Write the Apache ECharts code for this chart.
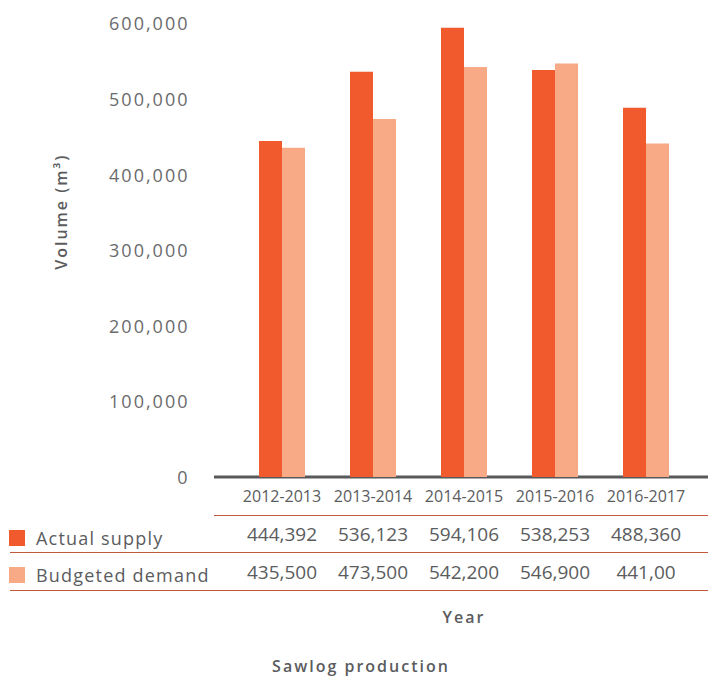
<!DOCTYPE html>
<html>
<head>
<meta charset="utf-8">
<script src="https://cdn.jsdelivr.net/npm/echarts@6/dist/echarts.min.js"></script>
<style>
  html, body { margin: 0; padding: 0; background: #ffffff; }
  #main { width: 708px; height: 678px; }
  #main text[text-anchor="end"] { letter-spacing: 2px; }
  #main text[text-anchor="start"] { letter-spacing: 1.2px; }
  #main text[style*="600"], #main text[font-weight="600"] { letter-spacing: 2px; }
</style>
</head>
<body>
<div id="main"></div>
<script>
// ---- data ----
var categories = ['2012-2013', '2013-2014', '2014-2015', '2015-2016', '2016-2017'];
var actualSupply = [444392, 536123, 594106, 538253, 488360];
var budgetedDemand = [435500, 473500, 542200, 546900, 441000];
var tableActual = ['444,392', '536,123', '594,106', '538,253', '488,360'];
var tableBudget = ['435,500', '473,500', '542,200', '546,900', '441,00'];
var seriesNames = ['Actual supply', 'Budgeted demand'];
var yMin = 0, yMax = 600000, yStep = 100000;

var textGray = '#5b5c5e';
var font = 'Open Sans';
var chart = echarts.init(document.getElementById('main'), null, { renderer: 'svg', width: 708, height: 678 });

var option = {
  animation: false,
  backgroundColor: '#ffffff',
  grid: { left: 236.5, right: 16.5, top: 23.4, bottom: 201, containLabel: false },
  legend: {
    orient: 'vertical',
    left: 9,
    top: 529,
    padding: 0,
    itemWidth: 16,
    itemHeight: 16,
    itemGap: 19,
    icon: 'rect',
    selectedMode: false,
    data: seriesNames,
    textStyle: { fontFamily: font, fontSize: 18, color: textGray, padding: [0, 0, 5, 6] }
  },
  xAxis: [
    {
      type: 'category',
      data: categories,
      position: 'bottom',
      axisLine: { show: false },
      axisTick: { show: false },
      axisLabel: { interval: 0, margin: 11, fontFamily: font, fontSize: 16, color: textGray },
      name: 'Year',
      nameLocation: 'middle',
      nameGap: 132,
      nameTextStyle: { fontFamily: font, fontSize: 16, fontWeight: 600, color: textGray }
    },
    {
      type: 'category',
      data: tableActual,
      position: 'bottom',
      offset: 40,
      axisLine: { show: false },
      axisTick: { show: false },
      axisLabel: { interval: 0, margin: 7, fontFamily: font, fontSize: 19, color: textGray }
    },
    {
      type: 'category',
      data: tableBudget,
      position: 'bottom',
      offset: 78,
      axisLine: { show: false },
      axisTick: { show: false },
      axisLabel: { interval: 0, margin: 7, fontFamily: font, fontSize: 19, color: textGray }
    }
  ],
  yAxis: {
    type: 'value',
    min: yMin,
    max: yMax,
    interval: yStep,
    axisLine: { show: false },
    axisTick: { show: false },
    splitLine: { show: false },
    axisLabel: {
      margin: 47,
      fontFamily: font,
      fontSize: 18,
      color: '#6a6b6d',
      formatter: function (v) { return v.toLocaleString('en-US'); }
    },
    name: 'Volume (m³)',
    nameLocation: 'middle',
    nameGap: 168,
    nameTextStyle: { fontFamily: font, fontSize: 16, fontWeight: 600, color: textGray, padding: [0, 0, 0, 77] }
  },
  series: [
    {
      name: seriesNames[0],
      type: 'bar',
      xAxisIndex: 0,
      data: actualSupply,
      barWidth: 23,
      barGap: '0%',
      itemStyle: { color: '#f05a2c' }
    },
    {
      name: seriesNames[1],
      type: 'bar',
      xAxisIndex: 0,
      data: budgetedDemand,
      barWidth: 23,
      barGap: '0%',
      itemStyle: { color: '#f8a986' }
    }
  ],
  graphic: [
    { type: 'line', shape: { x1: 214, y1: 477, x2: 708, y2: 477 }, style: { stroke: '#58595b', lineWidth: 3 } },
    { type: 'line', shape: { x1: 214, y1: 515.5, x2: 708, y2: 515.5 }, style: { stroke: '#c0583a', lineWidth: 1 } },
    { type: 'line', shape: { x1: 10, y1: 552.5, x2: 708, y2: 552.5 }, style: { stroke: '#c0583a', lineWidth: 1 } },
    { type: 'line', shape: { x1: 10, y1: 590.5, x2: 708, y2: 590.5 }, style: { stroke: '#c0583a', lineWidth: 1 } },
    {
      type: 'text',
      style: {
        x: 361, y: 666, text: 'Sawlog production',
        align: 'center', verticalAlign: 'middle',
        fontFamily: font, fontSize: 16, fontWeight: 600, fill: textGray
      }
    }
  ]
};
chart.setOption(option);
</script>
</body>
</html>
